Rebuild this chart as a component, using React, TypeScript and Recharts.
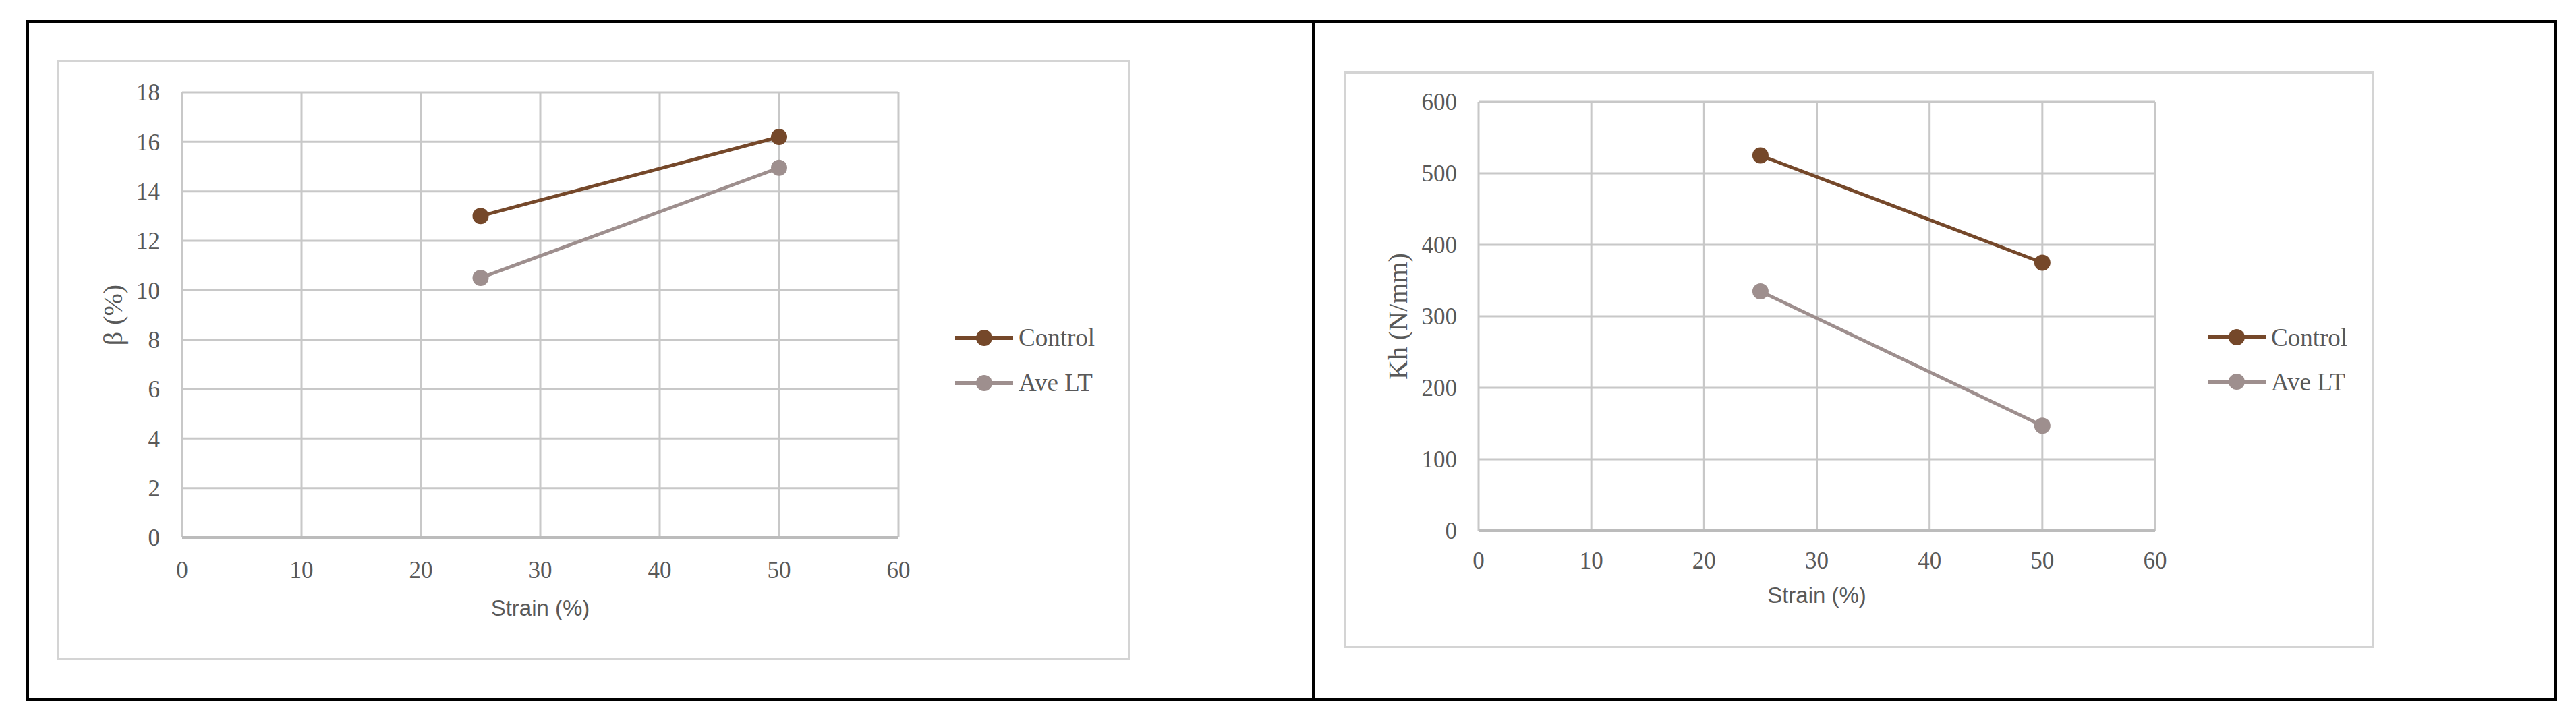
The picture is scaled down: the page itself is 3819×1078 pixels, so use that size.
import { CartesianGrid, Legend, Line, LineChart, XAxis, YAxis } from "recharts";

// values (strain % on x)
const strainValues = [25, 50];
const betaControl = [13.0, 16.2];
const betaAveLT = [10.5, 14.95];
const khControl = [525, 375];
const khAveLT = [335, 147];

const strainTicks = [0, 10, 20, 30, 40, 50, 60];
const betaTicks = [0, 2, 4, 6, 8, 10, 12, 14, 16, 18];
const khTicks = [0, 100, 200, 300, 400, 500, 600];

const seriesNames = ["Control", "Ave LT"];
const seriesColors = ["#75482a", "#9e8f8e"];

const SERIF = '"Liberation Serif", "Times New Roman", serif';
const SANS = '"Liberation Sans", Arial, sans-serif';
const TEXT = "#595959";
const GRID = "#c8c8c8";

type Row = { strain: number; control: number; aveLT: number };

function buildRows(control: number[], aveLT: number[]): Row[] {
  return strainValues.map((strain, i) => ({ strain, control: control[i], aveLT: aveLT[i] }));
}

type LegendEntry = { value?: string; color?: string };

function LegendRows({ payload, rowHeight }: { payload?: LegendEntry[]; rowHeight: number }) {
  // keep series order (recharts sorts legend entries by name)
  const entries = [...(payload ?? [])].sort(
    (a, b) => seriesNames.indexOf(a.value ?? "") - seriesNames.indexOf(b.value ?? "")
  );
  return (
    <div>
      {entries.map((entry) => (
        <div key={entry.value} style={{ display: "flex", alignItems: "center", height: rowHeight }}>
          <svg width={86} height={30}>
            <line x1={0} y1={15} x2={86} y2={15} stroke={entry.color} strokeWidth={6} />
            <circle cx={43} cy={15} r={12} fill={entry.color} />
          </svg>
          <span style={{ marginLeft: 8, fontFamily: SERIF, fontSize: 37, lineHeight: 1, color: TEXT }}>
            {entry.value}
          </span>
        </div>
      ))}
    </div>
  );
}

type PanelProps = {
  rows: Row[];
  box: { left: number; top: number; width: number; height: number };
  margin: { top: number; right: number };
  yAxisWidth: number;
  xAxisHeight: number;
  yTicks: number[];
  yLabel: string;
  yLabelOffset: number;
  yTickGap: number;
  xTickGap: number;
  xLabelOffset: number;
  legendLeft: number;
  legendTop: number;
  legendRow: number;
};

function Panel(p: PanelProps) {
  const { box } = p;
  return (
    <>
      <div
        style={{
          position: "absolute",
          left: box.left - 2,
          top: box.top - 2,
          width: box.width + 4,
          height: box.height + 4,
          border: "3px solid #d4d4d4",
          boxSizing: "border-box"
        }}
      />
      <div style={{ position: "absolute", left: box.left, top: box.top }}>
        <LineChart
          width={box.width}
          height={box.height}
          data={p.rows}
          margin={{ top: p.margin.top, right: p.margin.right, bottom: 0, left: 0 }}
        >
          <CartesianGrid stroke={GRID} strokeWidth={3} />
          <XAxis
            dataKey="strain"
            type="number"
            domain={[0, 60]}
            ticks={strainTicks}
            interval={0}
            height={p.xAxisHeight}
            tickLine={false}
            tickSize={0}
            tickMargin={p.xTickGap}
            axisLine={{ stroke: "#bcbcbc", strokeWidth: 4 }}
            tick={{ fill: TEXT, fontSize: 35, fontFamily: SERIF }}
            label={{
              value: "Strain (%)",
              position: "insideTop",
              offset: p.xLabelOffset,
              style: { fill: TEXT, fontSize: 33, fontFamily: SANS }
            }}
          />
          <YAxis
            type="number"
            domain={[p.yTicks[0], p.yTicks[p.yTicks.length - 1]]}
            ticks={p.yTicks}
            interval={0}
            width={p.yAxisWidth}
            tickLine={false}
            tickSize={0}
            tickMargin={p.yTickGap}
            axisLine={false}
            tick={{ fill: TEXT, fontSize: 35, fontFamily: SERIF }}
            label={{
              value: p.yLabel,
              angle: -90,
              position: "insideLeft",
              offset: p.yLabelOffset,
              style: { fill: TEXT, fontSize: 40, fontFamily: SERIF, textAnchor: "middle" }
            }}
          />
          <Legend
            layout="vertical"
            align="center"
            verticalAlign="middle"
            width={300}
            wrapperStyle={{ left: p.legendLeft, top: p.legendTop }}
            content={(props: any) => <LegendRows payload={props.payload} rowHeight={p.legendRow} />}
          />
          <Line
            dataKey="control"
            name={seriesNames[0]}
            stroke={seriesColors[0]}
            strokeWidth={5}
            dot={{ r: 12, fill: seriesColors[0], stroke: seriesColors[0], strokeWidth: 0 }}
            activeDot={false}
            isAnimationActive={false}
          />
          <Line
            dataKey="aveLT"
            name={seriesNames[1]}
            stroke={seriesColors[1]}
            strokeWidth={5}
            dot={{ r: 12, fill: seriesColors[1], stroke: seriesColors[1], strokeWidth: 0 }}
            activeDot={false}
            isAnimationActive={false}
          />
        </LineChart>
      </div>
    </>
  );
}

export default function App() {
  return (
    <div style={{ position: "absolute", left: 0, top: 0, width: 3819, height: 1078, background: "#fff" }}>
      <div
        style={{
          position: "absolute",
          left: 38,
          top: 29,
          width: 3753,
          height: 1011,
          border: "5px solid #000",
          boxSizing: "border-box"
        }}
      />
      <div style={{ position: "absolute", left: 1945, top: 29, width: 5, height: 1011, background: "#000" }} />

      <Panel
        rows={buildRows(betaControl, betaAveLT)}
        box={{ left: 87, top: 91, width: 1586, height: 886 }}
        margin={{ top: 46, right: 341 }}
        yAxisWidth={183}
        xAxisHeight={180}
        yTicks={betaTicks}
        yLabel="β (%)"
        yLabelOffset={80}
        yTickGap={33}
        xTickGap={35}
        xLabelOffset={93}
        legendLeft={1329}
        legendTop={376}
        legendRow={67}
      />
      <Panel
        rows={buildRows(khControl, khAveLT)}
        box={{ left: 1995, top: 108, width: 1523, height: 851 }}
        margin={{ top: 43, right: 323 }}
        yAxisWidth={197}
        xAxisHeight={172}
        yTicks={khTicks}
        yLabel="Kh (N/mm)"
        yLabelOffset={77}
        yTickGap={32}
        xTickGap={31}
        xLabelOffset={84}
        legendLeft={1278}
        legendTop={359}
        legendRow={66}
      />
    </div>
  );
}
